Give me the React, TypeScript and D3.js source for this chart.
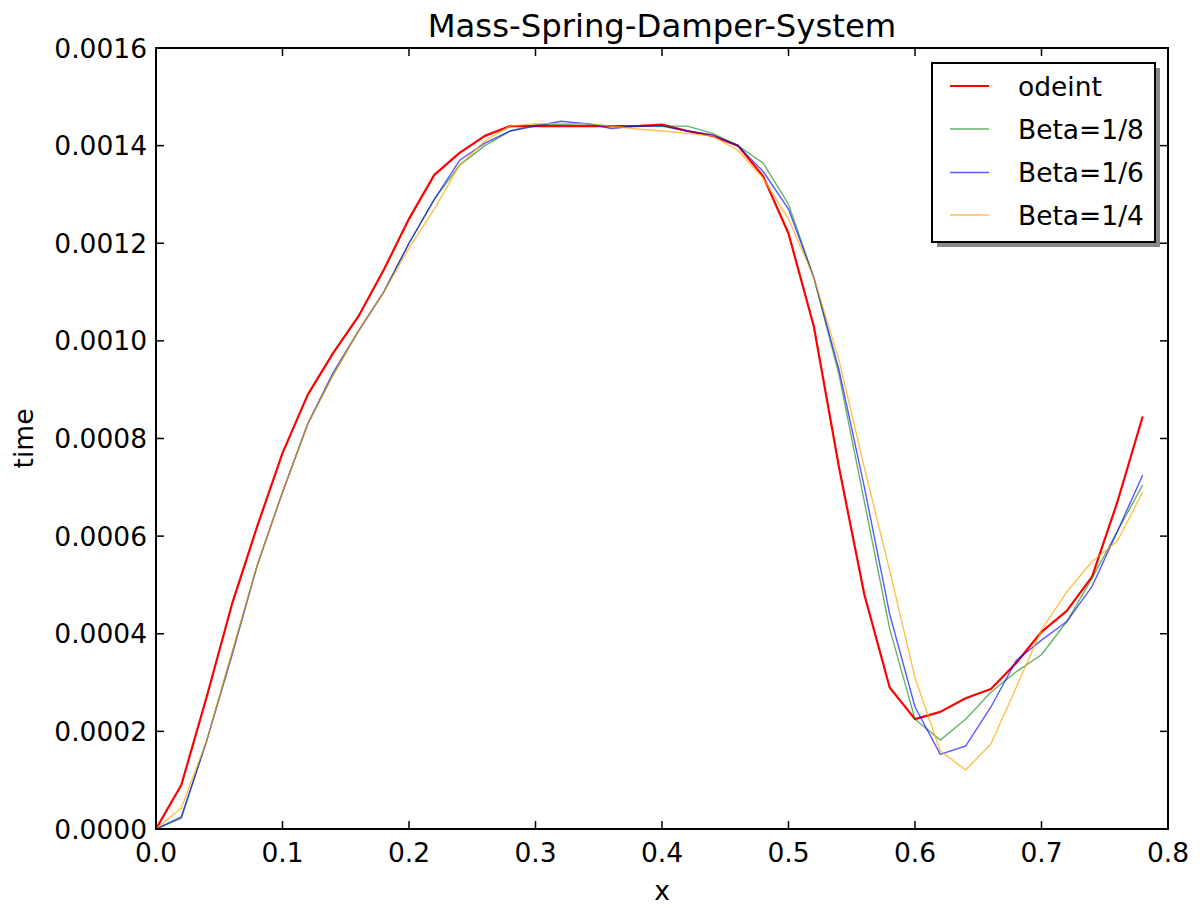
import React from "react";
import * as d3 from "d3";

const xValues = [0, 0.02, 0.04, 0.06, 0.08, 0.1, 0.12, 0.14, 0.16, 0.18, 0.2, 0.22, 0.24, 0.26, 0.28, 0.3, 0.32, 0.34, 0.36, 0.38, 0.4, 0.42, 0.44, 0.46, 0.48, 0.5, 0.52, 0.54, 0.56, 0.58, 0.6, 0.62, 0.64, 0.66, 0.68, 0.7, 0.72, 0.74, 0.76, 0.78];

const odeint = [0, 0.00009, 0.00027, 0.00046, 0.00062, 0.00077, 0.00089, 0.000975, 0.00105, 0.001145, 0.00125, 0.00134, 0.001385, 0.00142, 0.00144, 0.00144, 0.00144, 0.00144, 0.00144, 0.00144, 0.001443, 0.00143, 0.00142, 0.0014, 0.001337, 0.00122, 0.00103, 0.00074, 0.00048, 0.00029, 0.000225, 0.00024, 0.000268, 0.000287, 0.00034, 0.000404, 0.000447, 0.000517, 0.00067, 0.000845];

const beta18 = [0, 0.000022, 0.00018, 0.00036, 0.00054, 0.00069, 0.00083, 0.00093, 0.00102, 0.0011, 0.0012, 0.00129, 0.00136, 0.0014, 0.00143, 0.001443, 0.001443, 0.001445, 0.00144, 0.00144, 0.00144, 0.00144, 0.001425, 0.0014, 0.001364, 0.00128, 0.00113, 0.00093, 0.00067, 0.00041, 0.000225, 0.000182, 0.000225, 0.00028, 0.000322, 0.000357, 0.000425, 0.000514, 0.00061, 0.000705];

const beta16 = [0, 0.000025, 0.00018, 0.000355, 0.00054, 0.00069, 0.00083, 0.000935, 0.00102, 0.0011, 0.0012, 0.00129, 0.00137, 0.001405, 0.00143, 0.00144, 0.00145, 0.001445, 0.001435, 0.00144, 0.00144, 0.00143, 0.001422, 0.0014, 0.001347, 0.00127, 0.00113, 0.00094, 0.0007, 0.00044, 0.00025, 0.000153, 0.00017, 0.00025, 0.000345, 0.000387, 0.000425, 0.000497, 0.00061, 0.000725];

const beta14 = [0, 0.000043, 0.00018, 0.00036, 0.00054, 0.00069, 0.00083, 0.00093, 0.00102, 0.0011, 0.00119, 0.00127, 0.00136, 0.00141, 0.00144, 0.001445, 0.001445, 0.001445, 0.00144, 0.001434, 0.00143, 0.001425, 0.00142, 0.00139, 0.001333, 0.00125, 0.00113, 0.00096, 0.00074, 0.00053, 0.00031, 0.00016, 0.000121, 0.000174, 0.00029, 0.000408, 0.000486, 0.000548, 0.00059, 0.00069];

const xTicks = [0, 0.1, 0.2, 0.3, 0.4, 0.5, 0.6, 0.7, 0.8];
const yTicks = [0, 0.0002, 0.0004, 0.0006, 0.0008, 0.001, 0.0012, 0.0014, 0.0016];

const seriesNames = ["odeint", "Beta=1/8", "Beta=1/6", "Beta=1/4"];
const seriesData = [odeint, beta18, beta16, beta14];
const seriesColors = ["#ff0000", "#008000", "#0000ff", "#ffa500"];
const seriesWidths = [2.2, 1.4, 1.4, 1.4];
const seriesOpacity = [1, 0.6, 0.65, 0.7];

const FONT = "'DejaVu Sans', sans-serif";

export default function App() {
  const W = 1202;
  const H = 907;
  const L = 156, R = 1168, T = 48, B = 829;
  const x = d3.scaleLinear().domain([0, 0.8]).range([L, R]);
  const y = d3.scaleLinear().domain([0, 0.0016]).range([B, T]);
  const line = d3
    .line<number>()
    .x((_, i) => x(xValues[i]))
    .y((d) => y(d));
  const fx = d3.format(".1f");
  const fy = d3.format(".4f");
  const tickLen = 8;
  const fs = 26.5;

  const legX = 932, legY = 63, legW = 223, legH = 179;
  const rowY = [86, 129, 172.5, 215];

  return (
    <svg
      width={W}
      height={H}
      style={{ position: "absolute", left: 0, top: 0, background: "#fff" }}
      fontFamily={FONT}
    >
      <rect x={0} y={0} width={W} height={H} fill="#fff" />
      <defs>
        <clipPath id="plotclip">
          <rect x={L} y={T} width={R - L} height={B - T} />
        </clipPath>
      </defs>
      <g clipPath="url(#plotclip)">
        {seriesData.map((d, i) => (
          <path
            key={i}
            d={line(d) || ""}
            fill="none"
            stroke={seriesColors[i]}
            strokeWidth={seriesWidths[i]}
            strokeOpacity={seriesOpacity[i]}
            strokeLinejoin="round"
          />
        ))}
      </g>
      {xTicks.map((t) => (
        <g key={"xt" + t}>
          <line x1={x(t)} x2={x(t)} y1={B} y2={B - tickLen} stroke="#000" strokeWidth={1.5} />
          <line x1={x(t)} x2={x(t)} y1={T} y2={T + tickLen} stroke="#000" strokeWidth={1.5} />
          <text x={x(t)} y={B + 33} fontSize={fs} textAnchor="middle" fill="#000">
            {fx(t)}
          </text>
        </g>
      ))}
      {yTicks.map((t) => (
        <g key={"yt" + t}>
          <line x1={L} x2={L + tickLen} y1={y(t)} y2={y(t)} stroke="#000" strokeWidth={1.5} />
          <line x1={R} x2={R - tickLen} y1={y(t)} y2={y(t)} stroke="#000" strokeWidth={1.5} />
          <text x={147} y={y(t)} dy="0.36em" fontSize={fs} textAnchor="end" fill="#000">
            {fy(t)}
          </text>
        </g>
      ))}
      <rect x={L} y={T} width={R - L} height={B - T} fill="none" stroke="#000" strokeWidth={2} />
      <text x={(L + R) / 2} y={37} fontSize={32.3} textAnchor="middle" fill="#000">
        Mass-Spring-Damper-System
      </text>
      <text x={(L + R) / 2} y={900} fontSize={fs} textAnchor="middle" fill="#000">
        x
      </text>
      <text
        transform={`translate(33, ${(T + B) / 2}) rotate(-90)`}
        fontSize={fs}
        textAnchor="middle"
        fill="#000"
      >
        time
      </text>
      <rect x={legX + 5} y={legY + 5} width={legW} height={legH} fill="#888" />
      <rect x={legX} y={legY} width={legW} height={legH} fill="#fff" stroke="#000" strokeWidth={2} />
      {seriesNames.map((n, i) => (
        <g key={n}>
          <line
            x1={950}
            x2={989}
            y1={rowY[i]}
            y2={rowY[i]}
            stroke={seriesColors[i]}
            strokeWidth={seriesWidths[i]}
            strokeOpacity={seriesOpacity[i]}
          />
          <text x={1018} y={rowY[i]} dy="0.36em" fontSize={fs} fill="#000">
            {n}
          </text>
        </g>
      ))}
    </svg>
  );
}
